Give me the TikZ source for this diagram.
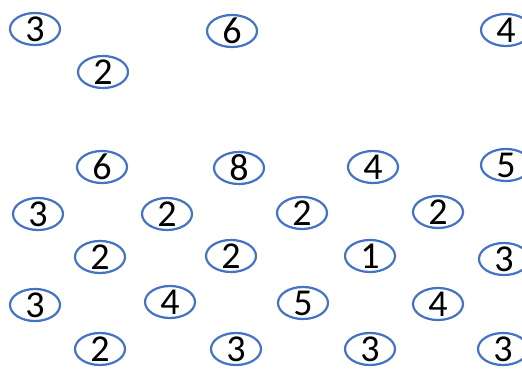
\documentclass[tikz,border=0pt]{standalone}
\usepackage{fontspec}
\setmainfont{Carlito}
\usetikzlibrary{shapes.geometric}
\definecolor{ringblue}{HTML}{4472C4}
\tikzset{
  num/.style={ellipse, draw=ringblue, line width=2.2pt, fill=white,
    minimum width=50pt, minimum height=32pt, inner sep=-6pt,
    font=\fontsize{38}{44}\selectfont, text=black}
}
\begin{document}
\begin{tikzpicture}[x=1pt,y=-1pt]
\useasboundingbox[fill=white] (0,0) rectangle (522,369);
% row A
\node[num] (a1) at (35,29) {3};
\node[num] (a2) at (232,31) {6};
\node[num] (a3) at (506,30) {4};
% row B
\node[num] (b1) at (103,72) {2};
% row C
\node[num] (c1) at (102,167) {6};
\node[num] (c2) at (239,168) {8};
\node[num] (c3) at (373,167) {4};
\node[num] (c4) at (506,165) {5};
% row D
\node[num] (d1) at (38,214) {3};
\node[num] (d2) at (167,214) {2};
\node[num] (d3) at (302,213) {2};
\node[num] (d4) at (438,212) {2};
% row E
\node[num] (e1) at (100,257) {2};
\node[num] (e2) at (231,256) {2};
\node[num] (e3) at (370,256) {1};
\node[num] (e4) at (504,259) {3};
% row F
\node[num] (f1) at (35,305) {3};
\node[num] (f2) at (170,302) {4};
\node[num] (f3) at (303,303) {5};
\node[num] (f4) at (438,304) {4};
% row G
\node[num] (g1) at (100,349) {2};
\node[num] (g2) at (236,349) {3};
\node[num] (g3) at (370,349) {3};
\node[num] (g4) at (503,349) {3};
\end{tikzpicture}
\end{document}
